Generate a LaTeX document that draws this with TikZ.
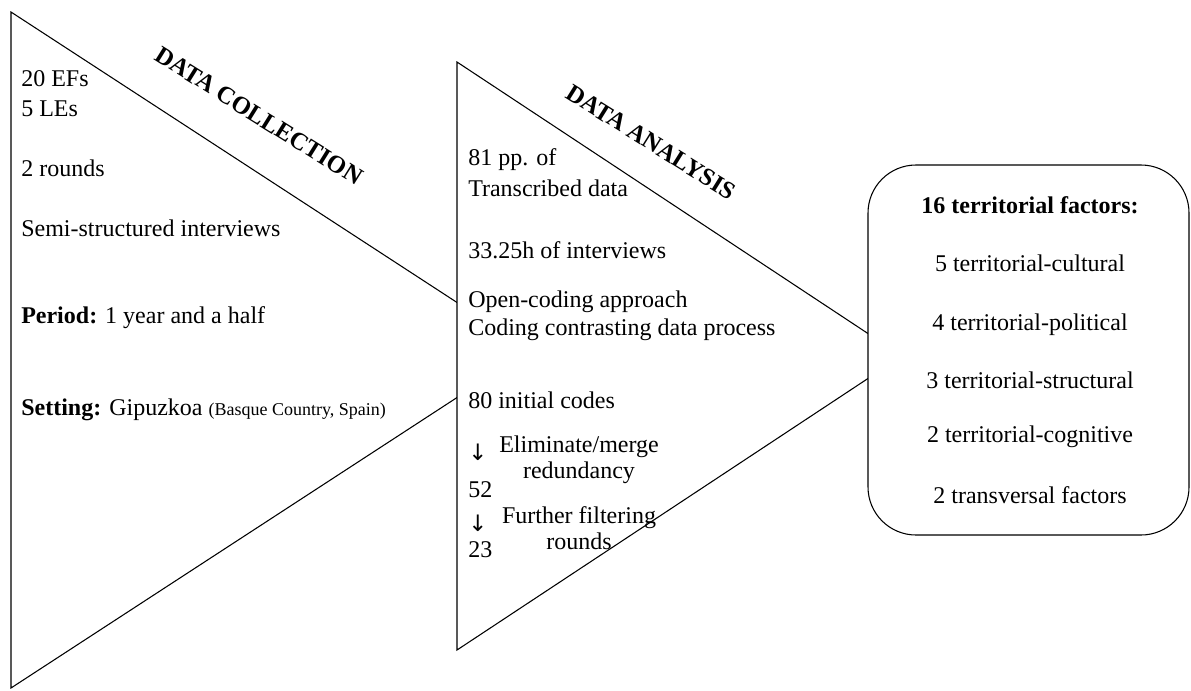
\documentclass[tikz,border=0pt]{standalone}
\usepackage{fontspec}
\setmainfont{Liberation Serif}
\newfontfamily\arrowfont{DejaVu Sans}
\usetikzlibrary{positioning}

\tikzset{
  item/.style={anchor=west, inner sep=0pt, font=\fontsize{18}{22.5}\selectfont},
  step note/.style={inner sep=0pt, align=center, font=\fontsize{18}{19.5}\selectfont},
  stage/.style={inner sep=0pt, font=\fontsize{18.5}{22.5}\selectfont\bfseries},
  factor/.style={inner sep=0pt, font=\fontsize{18}{22.5}\selectfont},
  funnel/.style={draw=black, line width=0.8pt, fill=white, line join=miter},
  down mark/.style={anchor=west, inner sep=0pt, font=\arrowfont\fontsize{17}{17}\selectfont},
}

\begin{document}
\begin{tikzpicture}[x=0.75pt,y=-0.75pt]
  \useasboundingbox (0,0) rectangle (1191,690);
  % data collection funnel
  \coordinate (c1) at (11,12);
  \coordinate (c2) at (530,350);
  \coordinate (c3) at (11,688);
  \draw[funnel] (c1) -- (c2) -- (c3) -- cycle;
  % data analysis funnel
  \coordinate (a1) at (457,62);
  \coordinate (a2) at (902,356);
  \coordinate (a3) at (457,650);
  \draw[funnel] (a1) -- (a2) -- (a3) -- cycle;
  % result box
  \node[draw, fill=white, line width=0.8pt, rounded corners=36pt,
        minimum width=240.75pt, minimum height=277.5pt] (result) at (1028.5,350) {};

  \node[stage, rotate=-32] (collect) at (259,116) {DATA COLLECTION};
  \node[stage, rotate=-32] (analyse) at (651,142) {DATA ANALYSIS};

  \begin{scope}[every node/.style={item}]
    \node (efs) at (21,79) {20 EFs};
    \node (les) at (21,109) {5 LEs};
    \node (rounds) at (21,168) {2 rounds};
    \node (semi) at (21,228) {Semi-structured interviews};
    \node (period) at (21,318) {\textbf{Period:} 1 year and a half};
    \node (setting) at (21,410) {\textbf{Setting:} Gipuzkoa {\fontsize{13.5}{16}\selectfont(Basque Country, Spain)}};
  \end{scope}

  \begin{scope}[every node/.style={item}]
    \node (pages) at (468,160) {81 pp. of};
    \node (transcr) at (468,188) {Transcribed data};
    \node (hours) at (468,250) {33.25h of interviews};
    \node (open) at (468,302) {Open-coding approach};
    \node (contrast) at (468,330) {Coding contrasting data process};
    \node (codes80) at (468,400) {80 initial codes};
    \node (codes52) at (468,490) {52};
    \node (codes23) at (468,550) {23};
  \end{scope}
  \node[down mark] (down1) at (468,452) {↓};
  \node[down mark] (down2) at (468,523) {↓};
  \node[step note] (merge) at (579,460) {Eliminate/merge\\redundancy};
  \node[step note] (filter) at (579,528) {Further filtering\\rounds};

  \begin{scope}[every node/.style={factor}]
    \node (total) at (1030,205) {\textbf{16 territorial factors:}};
    \node (cultural) at (1030,263) {5 territorial-cultural};
    \node (political) at (1030,325) {4 territorial-political};
    \node (structural) at (1030,380) {3 territorial-structural};
    \node (cognitive) at (1030,437) {2 territorial-cognitive};
    \node (transversal) at (1030,495) {2 transversal factors};
  \end{scope}
\end{tikzpicture}
\end{document}
